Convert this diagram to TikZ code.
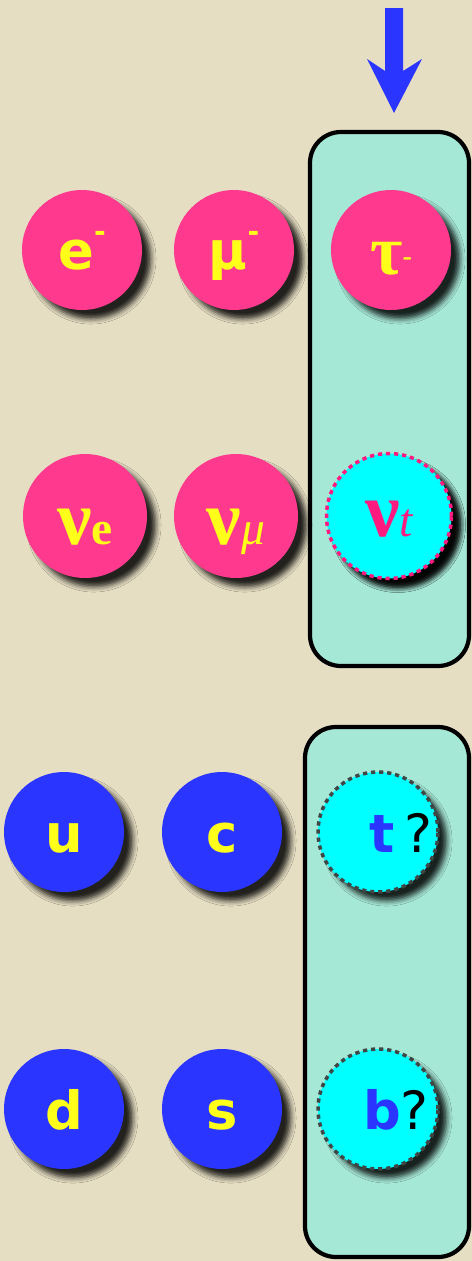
\documentclass[tikz,border=0pt]{standalone}
\usepackage{fontspec}
\setmainfont{Liberation Serif}
\setsansfont{DejaVu Sans}
\usepackage{xcolor}
\usetikzlibrary{shadows,shadows.blur}

\definecolor{paper}{HTML}{E6DEC3}
\definecolor{lepton}{HTML}{FF3A8E}
\definecolor{quark}{HTML}{2A35FF}
\definecolor{label}{HTML}{FFFF1A}
\definecolor{ghost}{HTML}{00FFFF}
\definecolor{column}{HTML}{A6E8D6}
\definecolor{rim}{HTML}{3F4646}
\definecolor{nutaured}{HTML}{FF1A80}

\newcommand{\lbl}{\fontsize{30}{32}\selectfont}
\newcommand{\nusym}[1]{{\fontsize{44}{46}\selectfont\bfseries ν}{\fontsize{27}{28}\selectfont #1}}
\newcommand{\minussup}{\raisebox{0.55em}{\fontsize{16}{16}\selectfont\bfseries -}}

\begin{document}
\begin{tikzpicture}[x=0.02cm,y=-0.02cm,
		particle/.style={circle,inner sep=0pt,minimum size=2.4cm,text=label,
			text height=0.8cm,text depth=0pt,
			blur shadow={shadow xshift=5pt,shadow yshift=-5pt,shadow blur radius=3pt,shadow blur extra rounding=0pt,shadow opacity=85}},
		lep/.style={particle,fill=lepton},
		qrk/.style={particle,fill=quark},
		nu/.style={lep,minimum size=2.48cm,text height=1.15cm},
		unseen/.style={particle,fill=ghost,draw=rim,line width=2pt,dash pattern=on 2.4pt off 2.2pt},
		colbox/.style={draw=black,fill=column,line width=2.4pt,rounded corners=0.62cm}]
			\fill[paper] (0,0) rectangle (472,1261);

			% third column boxes
			\draw[colbox] (310,132) rectangle (469,666);
			\draw[colbox] (305,727) rectangle (469,1257);

			% arrow pointing down at the tau column
			\fill[quark] (385,8) -- (403,8) -- (403,71) -- (422,59) -- (394,113) -- (367,59) -- (385,71) -- cycle;

			% charged leptons
			\node[lep] (electron) at (82,250) {\lbl\sffamily\bfseries e\minussup};
			\node[lep] (muon) at (234,250) {\lbl\sffamily\bfseries μ\minussup};
			\node[lep,text height=1cm] (tau) at (391,250) {{\fontsize{40}{42}\selectfont\bfseries τ}\minussup};

			% neutrinos
			\node[nu] (nue) at (85,516) {\nusym{\bfseries e}};
			\node[nu] (numu) at (236,516) {\nusym{\itshape μ}};
			\node[nu,unseen,minimum size=2.5cm,draw=nutaured,text=nutaured] (nutau) at (389,516) {\nusym{\itshape t}};

			% quarks
			\node[qrk] (up) at (64,832) {\lbl\sffamily\bfseries u};
			\node[qrk] (charm) at (222,832) {\lbl\sffamily\bfseries c};
			\node[unseen] (top) at (378,832) {\lbl\sffamily\hspace{0.86em}\textcolor{quark}{\bfseries t}\hspace{0.18em}\textcolor{black}{?}};
			\node[qrk] (down) at (64,1109) {\lbl\sffamily\bfseries d};
			\node[qrk] (strange) at (222,1109) {\lbl\sffamily\bfseries s};
			\node[unseen] (bottom) at (378,1109) {\lbl\sffamily\hspace{0.68em}\textcolor{quark}{\bfseries b}\hspace{-0.03em}\textcolor{black}{?}};
		\end{tikzpicture}
\end{document}
